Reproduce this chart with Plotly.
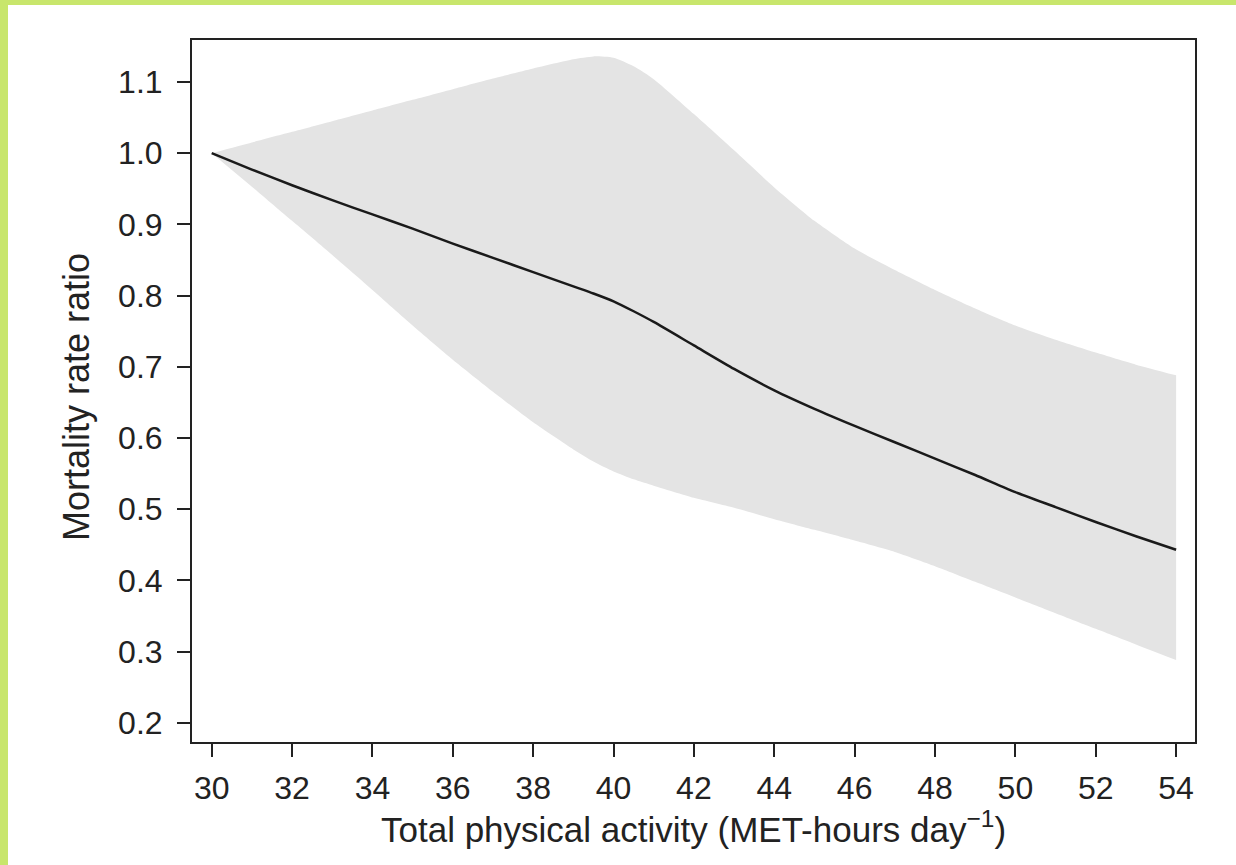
import plotly.graph_objects as go

# Data
x_vals = [30, 31, 32, 33, 34, 35, 36, 37, 38, 39, 39.5, 40, 40.5, 41, 42, 43, 44,
          45, 46, 47, 48, 49, 50, 51, 52, 53, 54]
rate_ratio = [1.000, 0.977, 0.955, 0.934, 0.914, 0.894, 0.873, 0.853, 0.833, 0.813,
              0.803, 0.792, 0.778, 0.763, 0.730, 0.697, 0.667, 0.641, 0.617, 0.594,
              0.571, 0.548, 0.524, 0.503, 0.482, 0.462, 0.443]
upper_ci = [1.000, 1.015, 1.030, 1.045, 1.060, 1.075, 1.090, 1.105, 1.119, 1.132,
            1.136, 1.134, 1.122, 1.104, 1.055, 1.004, 0.952, 0.905, 0.866, 0.836,
            0.808, 0.782, 0.758, 0.738, 0.720, 0.703, 0.688]
lower_ci = [1.000, 0.953, 0.905, 0.857, 0.808, 0.758, 0.710, 0.665, 0.622, 0.584,
            0.567, 0.553, 0.542, 0.533, 0.516, 0.502, 0.486, 0.471, 0.456, 0.440,
            0.420, 0.398, 0.376, 0.354, 0.332, 0.310, 0.288]
x_ticks = [30, 32, 34, 36, 38, 40, 42, 44, 46, 48, 50, 52, 54]
y_ticks = [0.2, 0.3, 0.4, 0.5, 0.6, 0.7, 0.8, 0.9, 1.0, 1.1]

W, H = 1236, 865
L, R, T, B = 192, 41, 40, 123
FONT = "Liberation Sans, Arial, sans-serif"
TXT = "#222222"

fig = go.Figure()
fig.add_trace(go.Scatter(x=x_vals, y=lower_ci, mode="lines",
                         line=dict(width=0, color="rgba(0,0,0,0)", shape="spline", smoothing=0.6),
                         hoverinfo="skip", showlegend=False))
fig.add_trace(go.Scatter(x=x_vals, y=upper_ci, mode="lines", fill="tonexty",
                         fillcolor="#e4e4e4",
                         line=dict(width=0, color="rgba(0,0,0,0)", shape="spline", smoothing=0.6),
                         hoverinfo="skip", showlegend=False))
fig.add_trace(go.Scatter(x=x_vals, y=rate_ratio, mode="lines",
                         line=dict(width=2.5, color="#1a1a1a", shape="spline", smoothing=0.6),
                         showlegend=False))

pw = W - L - R
ph = H - T - B

fig.update_layout(
    width=W, height=H,
    margin=dict(l=L, r=R, t=T, b=B, autoexpand=False),
    paper_bgcolor="#c8e66c",
    plot_bgcolor="white",
    font=dict(family=FONT, color=TXT, size=32),
    showlegend=False,
    shapes=[dict(type="rect", xref="paper", yref="paper", layer="below",
                 x0=(8 - L) / pw, x1=(W + 20 - L) / pw,
                 y0=(T + ph - H - 20) / ph, y1=(T + ph - 5) / ph,
                 line=dict(width=0), fillcolor="white")],
    xaxis=dict(range=[29.51, 54.47], tickvals=x_ticks, ticktext=[str(v) for v in x_ticks],
               showgrid=False, zeroline=False, showline=True, mirror=True,
               linecolor="#222222", linewidth=2, ticks="outside", ticklen=13,
               tickwidth=2, tickcolor="#222222", ticklabelstandoff=4,
               tickfont=dict(size=32, family=FONT, color=TXT)),
    yaxis=dict(range=[0.173, 1.159], tickvals=y_ticks, ticktext=[f"{v:.1f}" for v in y_ticks],
               showgrid=False, zeroline=False, showline=True, mirror=True,
               linecolor="#222222", linewidth=2, ticks="outside", ticklen=13,
               tickwidth=2, tickcolor="#222222", ticklabelstandoff=8,
               tickfont=dict(size=32, family=FONT, color=TXT)),
    annotations=[
        dict(text="Total physical activity (MET-hours day<sup>−1</sup>)",
             xref="paper", yref="paper", x=0.5, y=(T + ph - 827) / ph,
             xanchor="center", yanchor="middle", showarrow=False,
             font=dict(size=35, family=FONT, color=TXT)),
        dict(text="Mortality rate ratio", textangle=-90,
             xref="paper", yref="paper", x=(76 - L) / pw, y=(T + ph - 397) / ph,
             xanchor="center", yanchor="middle", showarrow=False,
             font=dict(size=36, family=FONT, color=TXT)),
    ],
)

fig.write_html("out.html", config={"displayModeBar": False},
               post_script="document.body.style.margin='0';document.body.style.padding='0';")
